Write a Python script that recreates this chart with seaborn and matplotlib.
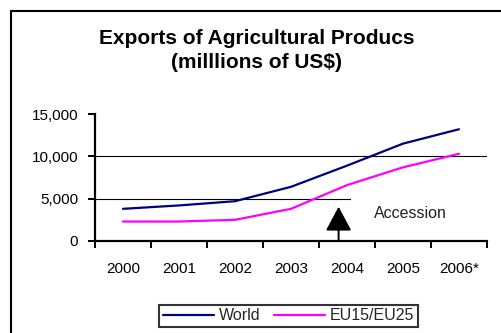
import matplotlib
matplotlib.use("Agg")
import matplotlib.pyplot as plt
from matplotlib.patches import Rectangle, ArrowStyle
import seaborn as sns
import pandas as pd

# ---- data ----
years = ["2000", "2001", "2002", "2003", "2004", "2005", "2006*"]
world = [3800, 4200, 4700, 6400, 8900, 11500, 13200]
eu = [2300, 2300, 2500, 3800, 6600, 8700, 10300]
series_names = ["World", "EU15/EU25"]
y_ticks = [0, 5000, 10000, 15000]
title_lines = ["Exports of Agricultural Producs", "(milllions of US$)"]
annotation_text = "Accession"

df = pd.DataFrame({
    "pos": list(range(len(years))) * 2,
    "value": world + eu,
    "series": [series_names[0]] * len(years) + [series_names[1]] * len(years),
})

sns.set_theme(style="white")
plt.rcParams["font.family"] = ["Liberation Sans", "DejaVu Sans"]

W, H = 501, 333
fig = plt.figure(figsize=(W / 100, H / 100), dpi=100)
ax = fig.add_axes([95 / W, 1 - 241 / H, (487 - 95) / W, (241 - 114) / H])

palette = {"World": "#000080", "EU15/EU25": "#FF00FF"}
sns.lineplot(data=df, x="pos", y="value", hue="series", palette=palette,
             ax=ax, linewidth=1.6, legend=True, zorder=3)

ax.set_xlim(-0.5, len(years) - 0.5)
ax.set_ylim(0, 15000)
ax.set_xlabel("")
ax.set_ylabel("")

# y axis
ax.set_yticks(y_ticks)
ax.set_yticklabels([f"{v:,}" for v in y_ticks], fontsize=11, color="black")
ax.tick_params(axis="y", which="major", direction="out", length=5, width=1.4,
               color="black", pad=7, left=True)

# x axis: labels at centers, ticks at boundaries
ax.set_xticks(range(len(years)))
ax.set_xticklabels(years, fontsize=11, color="black")
ax.set_xticks([i - 0.5 for i in range(len(years) + 1)], minor=True)
ax.tick_params(axis="x", which="major", length=0, pad=15)
ax.tick_params(axis="x", which="minor", direction="out", length=5, width=1.4,
               color="black", bottom=True)

for s in ["top", "right"]:
    ax.spines[s].set_visible(False)
for s in ["left", "bottom"]:
    ax.spines[s].set_visible(True)
    ax.spines[s].set_color("black")
    ax.spines[s].set_linewidth(1.6)

# gridlines
ax.set_axisbelow(True)
ax.yaxis.grid(True, color="black", linewidth=0.8)
ax.xaxis.grid(False)
gl = ax.yaxis.get_gridlines()
gl[0].set_visible(False)
gl[-1].set_visible(False)

# white text box covering part of the gridline
ax.add_patch(Rectangle((4.07, 250), 3.0, 5300, facecolor="white",
                       edgecolor="none", zorder=1))

# arrow and label
style = ArrowStyle("-|>", head_length=1.5, head_width=0.8)
ax.annotate("", xy=(3.85, 4050), xytext=(3.85, 0),
            arrowprops=dict(arrowstyle=style, mutation_scale=10,
                            color="black", lw=1.4, shrinkA=0, shrinkB=0),
            zorder=4)
ax.text(4.48, 3300, annotation_text, fontsize=11.5, color="#222222",
        ha="left", va="center", zorder=4)

# legend
handles, labels = ax.get_legend_handles_labels()
ax.get_legend().remove()
leg = fig.legend(handles, labels, loc="center",
                 bbox_to_anchor=(288.5 / W, 1 - 316 / H), ncol=2,
                 fontsize=11.5, frameon=True, fancybox=False, edgecolor="black",
                 handlelength=3.2, handletextpad=0.3, columnspacing=0.8,
                 borderpad=0.25, borderaxespad=0)
leg.get_frame().set_linewidth(1.5)
for h in leg.get_lines():
    h.set_linewidth(1.6)

# title
fig.text(256.5 / W, 1 - 38 / H, title_lines[0], ha="center", va="center",
         fontsize=15, fontweight="bold", color="black")
fig.text(256.5 / W, 1 - 63 / H, title_lines[1], ha="center", va="center",
         fontsize=15, fontweight="bold", color="black")

# outer chart border
fig.add_artist(Rectangle((11 / W, -0.05), 1.2, 1 - 11 / H + 0.05,
                         transform=fig.transFigure, facecolor="none",
                         edgecolor="black", linewidth=1.5))

fig.savefig("out.png", dpi=100)
